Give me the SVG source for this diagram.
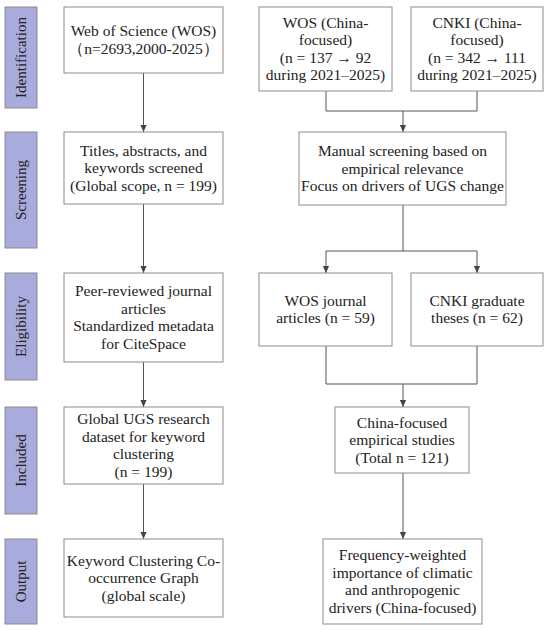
<svg xmlns="http://www.w3.org/2000/svg" width="550" height="630" viewBox="0 0 550 630">
<style>
.box{fill:#fff;stroke:#8c8c8c;stroke-width:1}
.lab{fill:#a9abdc;stroke:#8c8c8c;stroke-width:1}
.t{font-family:'Liberation Serif','DejaVu Serif',serif;font-size:15.5px;fill:#222;text-anchor:middle}
.lt{font-family:'Liberation Serif','DejaVu Serif',serif;font-size:15px;fill:#222;text-anchor:middle}
.c{fill:none;stroke:#555;stroke-width:1}
</style>
<defs>
<marker id="ah" viewBox="0 0 8 8" refX="8" refY="4" markerWidth="7" markerHeight="7" markerUnits="userSpaceOnUse" orient="auto">
<path d="M0,0.5 L8,4 L0,7.5 Z" fill="#444"/>
</marker>
</defs>
<rect width="550" height="630" fill="#fff"/>

<g id="stages">
<g id="stage-identification"><rect class="lab" x="5" y="7" width="32" height="101"/><text class="lt" transform="translate(26,57.5) rotate(-90)">Identification</text></g>
<g id="stage-screening"><rect class="lab" x="5" y="132" width="32" height="116"/><text class="lt" transform="translate(26,190) rotate(-90)">Screening</text></g>
<g id="stage-eligibility"><rect class="lab" x="5" y="273" width="32" height="107"/><text class="lt" transform="translate(26,326.5) rotate(-90)">Eligibility</text></g>
<g id="stage-included"><rect class="lab" x="5" y="407" width="32" height="107"/><text class="lt" transform="translate(26,460.5) rotate(-90)">Included</text></g>
<g id="stage-output"><rect class="lab" x="5" y="539" width="32" height="85"/><text class="lt" transform="translate(26,581.5) rotate(-90)">Output</text></g>
</g>

<g id="connectors">
<line class="c" x1="143.5" y1="73" x2="143.5" y2="132" marker-end="url(#ah)"/>
<line class="c" x1="143.5" y1="204" x2="143.5" y2="273" marker-end="url(#ah)"/>
<line class="c" x1="143.5" y1="362" x2="143.5" y2="407" marker-end="url(#ah)"/>
<line class="c" x1="143.5" y1="484" x2="143.5" y2="539" marker-end="url(#ah)"/>
<polyline class="c" points="326,91 326,111 477,111 477,91"/>
<line class="c" x1="403" y1="111" x2="403" y2="132" marker-end="url(#ah)"/>
<line class="c" x1="403" y1="205" x2="403" y2="251"/>
<line class="c" x1="326" y1="251" x2="477" y2="251"/>
<line class="c" x1="326" y1="251" x2="326" y2="273" marker-end="url(#ah)"/>
<line class="c" x1="477" y1="251" x2="477" y2="273" marker-end="url(#ah)"/>
<polyline class="c" points="326,346 326,384 477,384 477,346"/>
<line class="c" x1="403" y1="384" x2="403" y2="407" marker-end="url(#ah)"/>
<line class="c" x1="403" y1="473" x2="403" y2="539" marker-end="url(#ah)"/>
</g>

<g id="n-wos-global"><rect class="box" x="64" y="7" width="159" height="66"/>
<text class="t" x="143.5" y="36">Web of Science (WOS)</text>
<text class="t" x="143.5" y="53.5">（n=2693,2000-2025）</text></g>

<g id="n-screen-global"><rect class="box" x="64" y="132" width="159" height="72"/>
<text class="t" x="143.5" y="155.5">Titles, abstracts, and</text>
<text class="t" x="143.5" y="173">keywords screened</text>
<text class="t" x="143.5" y="190.5">(Global scope, n = 199)</text></g>

<g id="n-elig-global"><rect class="box" x="64" y="273" width="159" height="89"/>
<text class="t" x="143.5" y="296.25">Peer-reviewed journal</text>
<text class="t" x="143.5" y="313.75">articles</text>
<text class="t" x="143.5" y="331.25">Standardized metadata</text>
<text class="t" x="143.5" y="348.75">for CiteSpace</text></g>

<g id="n-incl-global"><rect class="box" x="64" y="407" width="159" height="77"/>
<text class="t" x="143.5" y="424.25">Global UGS research</text>
<text class="t" x="143.5" y="441.75">dataset for keyword</text>
<text class="t" x="143.5" y="459.25">clustering</text>
<text class="t" x="143.5" y="476.75">(n = 199)</text></g>

<g id="n-out-global"><rect class="box" x="64" y="539" width="159" height="78"/>
<text class="t" x="143.5" y="565.5">Keyword Clustering Co-</text>
<text class="t" x="143.5" y="583">occurrence Graph</text>
<text class="t" x="143.5" y="600.5">(global scale)</text></g>

<g id="n-wos-china"><rect class="box" x="259" y="7" width="133" height="84"/>
<text class="t" x="325.5" y="27.75">WOS (China-</text>
<text class="t" x="325.5" y="45.25">focused)</text>
<text class="t" x="325.5" y="62.75">(n = 137 → 92</text>
<text class="t" x="325.5" y="80.25">during 2021–2025)</text></g>

<g id="n-cnki-china"><rect class="box" x="411" y="7" width="132" height="84"/>
<text class="t" x="477" y="27.75">CNKI (China-</text>
<text class="t" x="477" y="45.25">focused)</text>
<text class="t" x="477" y="62.75">(n = 342 → 111</text>
<text class="t" x="477" y="80.25">during 2021–2025)</text></g>

<g id="n-manual"><rect class="box" x="299" y="132" width="207" height="73"/>
<text class="t" x="402.5" y="156">Manual screening based on</text>
<text class="t" x="402.5" y="173.5">empirical relevance</text>
<text class="t" x="402.5" y="191">Focus on drivers of UGS change</text></g>

<g id="n-wos-journal"><rect class="box" x="259" y="273" width="133" height="73"/>
<text class="t" x="325.5" y="305.75">WOS journal</text>
<text class="t" x="325.5" y="323.25">articles (n = 59)</text></g>

<g id="n-cnki-theses"><rect class="box" x="411" y="273" width="132" height="73"/>
<text class="t" x="477" y="305.75">CNKI graduate</text>
<text class="t" x="477" y="323.25">theses (n = 62)</text></g>

<g id="n-china-incl"><rect class="box" x="335" y="407" width="134" height="66"/>
<text class="t" x="402" y="427.5">China-focused</text>
<text class="t" x="402" y="445">empirical studies</text>
<text class="t" x="402" y="462.5">(Total n = 121)</text></g>

<g id="n-china-out"><rect class="box" x="323" y="539" width="159" height="85"/>
<text class="t" x="402.5" y="560.25">Frequency-weighted</text>
<text class="t" x="402.5" y="577.75">importance of climatic</text>
<text class="t" x="402.5" y="595.25">and anthropogenic</text>
<text class="t" x="402.5" y="612.75">drivers (China-focused)</text></g>
</svg>
